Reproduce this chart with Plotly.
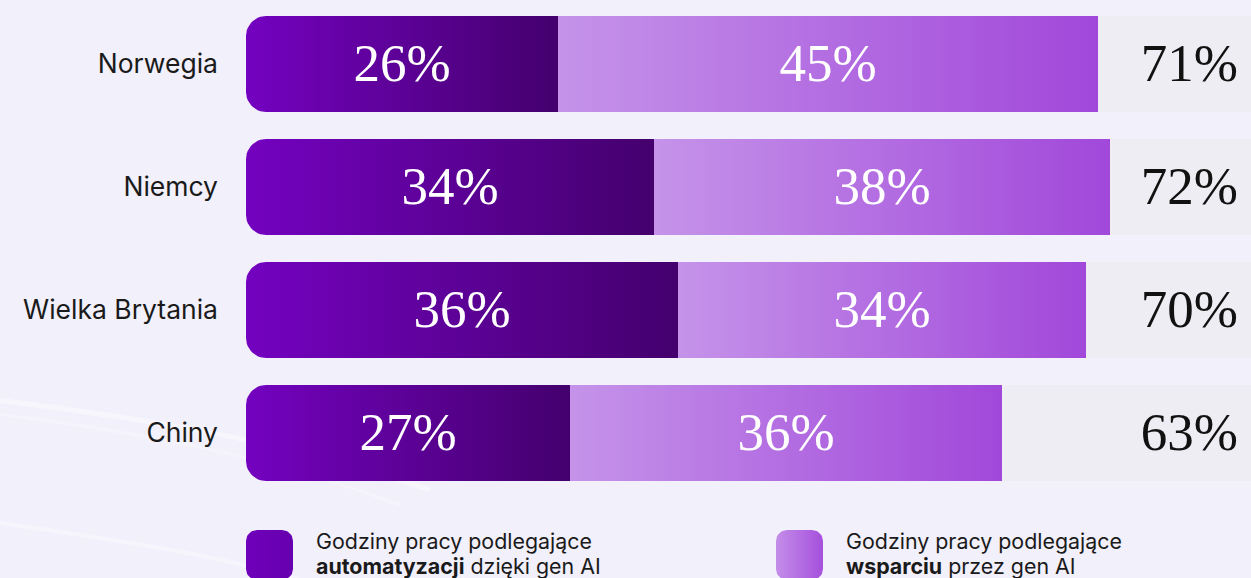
import numpy as np
import plotly.graph_objects as go

# ---- data ----
countries = ["Norwegia", "Niemcy", "Wielka Brytania", "Chiny"]
automation = [26, 34, 36, 27]
support = [45, 38, 34, 36]
totals = [71, 72, 70, 63]
track_max = 84
legend_line1 = ["Godziny pracy podlegające", "Godziny pracy podlegające"]
legend_line2 = ["<b>automatyzacji</b> dzięki gen AI", "<b>wsparciu</b> przez gen AI"]

# ---- styling ----
W, H = 1251, 578
ML = 246
X_RANGE = [0, 83.75]
PX_X = (W - ML) / (X_RANGE[1] - X_RANGE[0])   # px per x unit
PX_Y = 123.0                                    # px per category
Y_C0 = 64                                       # px centre of first row
Y_TOP = -Y_C0 / PX_Y
Y_BOT = (H - Y_C0) / PX_Y
HALF = 48 / PX_Y
R_PX = 20

C_AUTO = [[0, "#7402C0"], [1, "#44006D"]]
C_SUP = [[0, "#C593E9"], [1, "#A148DA"]]
C_LEG1 = [[0, "#6F00BA"], [1, "#6600AE"]]
C_LEG2 = [[0, "#C48DE9"], [1, "#A550DC"]]
TRACK = "#EFEDF4"
BG = "#F2F0FB"


def dx(px):
    return (px - ML) / PX_X


def dy(py):
    return (py - Y_C0) / PX_Y


def rrect(x0, x1, y0, y1, rxp=0, ryp=0, round_left=True, round_right=False):
    rx, ry = rxp / PX_X, ryp / PX_Y
    xs, ys = [], []
    if round_left and rxp:
        t = np.linspace(np.pi, 1.5 * np.pi, 12)
        xs += list(x0 + rx + rx * np.cos(t)); ys += list(y0 + ry + ry * np.sin(t))
    else:
        xs.append(x0); ys.append(y0)
    if round_right and rxp:
        t = np.linspace(1.5 * np.pi, 2 * np.pi, 12)
        xs += list(x1 - rx + rx * np.cos(t)); ys += list(y0 + ry + ry * np.sin(t))
        t = np.linspace(0, 0.5 * np.pi, 12)
        xs += list(x1 - rx + rx * np.cos(t)); ys += list(y1 - ry + ry * np.sin(t))
    else:
        xs += [x1, x1]; ys += [y0, y1]
    if round_left and rxp:
        t = np.linspace(0.5 * np.pi, np.pi, 12)
        xs += list(x0 + rx + rx * np.cos(t)); ys += list(y1 - ry + ry * np.sin(t))
    else:
        xs.append(x0); ys.append(y1)
    xs.append(xs[0]); ys.append(ys[0])
    return xs, ys


fig = go.Figure()

for i, c in enumerate(countries):
    a, s = automation[i], support[i]
    xs, ys = rrect(0, track_max, i - HALF, i + HALF, R_PX, R_PX)
    fig.add_trace(go.Scatter(x=xs, y=ys, fill="toself", fillcolor=TRACK,
                             mode="lines", line=dict(width=0), hoverinfo="skip"))
    xs, ys = rrect(0, a, i - HALF, i + HALF, R_PX, R_PX)
    fig.add_trace(go.Scatter(x=xs, y=ys, fill="toself", mode="lines", line=dict(width=0),
                             fillgradient=dict(type="horizontal", colorscale=C_AUTO, start=0, stop=a),
                             hoverinfo="skip"))
    xs, ys = rrect(a, a + s, i - HALF, i + HALF, round_left=False)
    fig.add_trace(go.Scatter(x=xs, y=ys, fill="toself", mode="lines", line=dict(width=0),
                             fillgradient=dict(type="horizontal", colorscale=C_SUP, start=a, stop=a + s),
                             hoverinfo="skip"))

# segment & total labels
serif = "Liberation Serif"
LBL_DY = 4 / PX_Y
rows = [i + LBL_DY for i in range(len(countries))]
fig.add_trace(go.Scatter(
    x=[a / 2 for a in automation], y=rows, mode="text", text=[f"{v}%" for v in automation],
    textfont=dict(family=serif, size=53, color="white"), hoverinfo="skip"))
fig.add_trace(go.Scatter(
    x=[a + s / 2 for a, s in zip(automation, support)], y=rows, mode="text",
    text=[f"{v}%" for v in support],
    textfont=dict(family=serif, size=53, color="white"), hoverinfo="skip"))
fig.add_trace(go.Scatter(
    x=[dx(1238)] * len(countries), y=rows, mode="text", text=[f"{v}%" for v in totals],
    textposition="middle left",
    textfont=dict(family=serif, size=53, color="#111111"), hoverinfo="skip"))

# legend swatches (gradient filled)
annotations = []
for k, (x0p, cs, txt_x) in enumerate([(246, C_LEG1, 314), (776, C_LEG2, 844)]):
    xs, ys = rrect(dx(x0p), dx(x0p + 47), dy(530), dy(580), 11, 11, True, True)
    fig.add_trace(go.Scatter(x=xs, y=ys, fill="toself", mode="lines", line=dict(width=0),
                             fillgradient=dict(type="horizontal", colorscale=cs,
                                               start=dx(x0p), stop=dx(x0p + 47)),
                             hoverinfo="skip"))
    for txt, cy in [(legend_line1[k], 541), (legend_line2[k], 566)]:
        annotations.append(dict(x=dx(txt_x), y=dy(cy), xref="x", yref="y", text=txt,
                                showarrow=False, xanchor="left", yanchor="middle", align="left",
                                font=dict(family="Inter", size=21.4, color="#1a1a1a")))

# faint background swooshes (decorative, pixel space -> paper space)
def pp(x, y):
    return (x - ML) / (W - ML), 1 - y / H

shapes = []
for pts, w, op in [
    ([(-20, 398), (150, 418), (300, 445), (430, 490)], 5, 0.45),
    ([(-20, 412), (150, 432), (280, 460), (400, 505)], 3, 0.3),
    ([(-20, 520), (120, 540), (250, 560), (330, 590)], 4, 0.35),
]:
    p = [pp(x, y) for x, y in pts]
    path = f"M {p[0][0]} {p[0][1]} C {p[1][0]} {p[1][1]}, {p[2][0]} {p[2][1]}, {p[3][0]} {p[3][1]}"
    shapes.append(dict(type="path", path=path, xref="paper", yref="paper", layer="below",
                       line=dict(color="white", width=w), opacity=op))

fig.update_traces(showlegend=False)
fig.update_layout(
    width=W, height=H,
    margin=dict(l=ML, r=0, t=0, b=0),
    paper_bgcolor=BG, plot_bgcolor="rgba(0,0,0,0)",
    shapes=shapes, annotations=annotations,
    xaxis=dict(range=X_RANGE, visible=False, fixedrange=True),
    yaxis=dict(range=[Y_BOT, Y_TOP], tickmode="array", tickvals=list(range(len(countries))),
               ticktext=countries, showgrid=False, zeroline=False, showline=False,
               ticks="", ticklabelstandoff=27,
               tickfont=dict(family="Inter", size=26.5, color="#1a1a1a"), fixedrange=True),
    showlegend=False,
)

fig.write_html("out.html", config={"displayModeBar": False}, post_script=(
    "document.body.style.margin='0';document.body.style.overflow='hidden';"
    f"document.body.style.background='{BG}';"))
